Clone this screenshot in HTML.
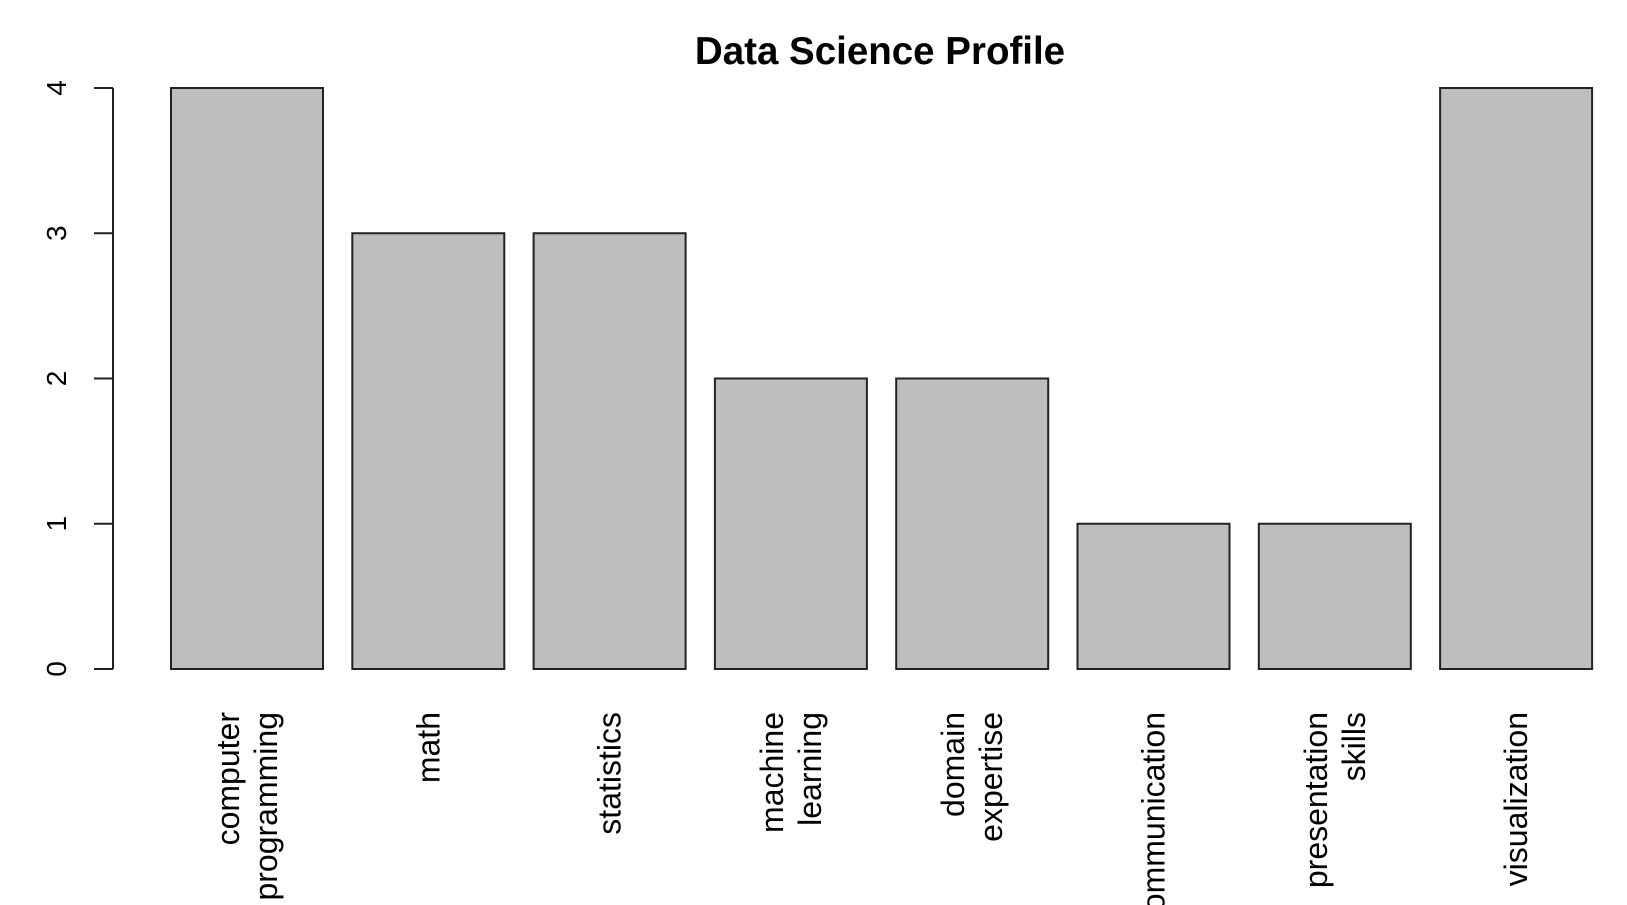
<!DOCTYPE html>
<html><head><meta charset="utf-8"><style>
html,body{margin:0;padding:0;background:#fff;}
svg{display:block;font-family:"Liberation Sans",Arial,sans-serif;}
</style></head><body>
<svg id="chart" width="1627" height="905" viewBox="0 0 1627 905" xmlns="http://www.w3.org/2000/svg">
<text x="880" y="64" text-anchor="middle" font-size="38.5" font-weight="bold" fill="#000">Data Science Profile</text>
<g id="yaxis"></g>
<g id="bars"></g>
<g id="xlabels"></g>
</svg>
<script>
const categories = [["computer","programming"],["math"],["statistics"],["machine","learning"],["domain","expertise"],["communication"],["presentation","skills"],["visualization"]];
const values = [4,3,3,2,2,1,1,4];
const yTicks = [0,1,2,3,4];
const yTickLabels = ["0","1","2","3","4"];

const NS="http://www.w3.org/2000/svg";
const y0=669, y4=88, xFirst=171, pitch=181.3, bw=152, axisX=113;
function yScale(v){return y0-(y0-y4)*v/4;}
function xScale(i){return xFirst+i*pitch;}
function mk(tag,attrs,parent){const e=document.createElementNS(NS,tag);for(const k in attrs)e.setAttribute(k,attrs[k]);parent.appendChild(e);return e;}

const ya=document.getElementById('yaxis');
const axl=mk('line',{x1:axisX,x2:axisX,y1:yScale(yTicks[0]),y2:yScale(yTicks[yTicks.length-1]),stroke:'#222','stroke-width':2},ya);


yTicks.forEach((t,i)=>{
  const y=yScale(t);
  const tk=mk('line',{x1:axisX-19,x2:axisX,y1:y,y2:y,stroke:'#222','stroke-width':2},ya);
  
  
  const tx=mk('text',{x:0,y:0,transform:`translate(66,${y}) rotate(-90)`,'text-anchor':'middle','font-size':28,fill:'#000'},ya);
  tx.textContent=yTickLabels[i];
  
  
});

const bg=document.getElementById('bars');
const xl=document.getElementById('xlabels');
values.forEach((v,i)=>{
  const x=xScale(i);
  const r=mk('rect',{x:x,y:yScale(v),width:bw,height:yScale(0)-yScale(v),fill:'#bebebe',stroke:'#222','stroke-width':2},bg);
  
  
  const lines=categories[i];
  const cx=x+bw/2;
  lines.forEach((ln,j)=>{
    const off=(j-(lines.length-1)/2)*38;
    const bx=cx+off+11;
    const t=mk('text',{x:0,y:0,transform:`translate(${bx},712) rotate(-90)`,'text-anchor':'end','font-size':32,fill:'#000'},xl);
    t.textContent=ln;
    
    
  });
});
</script>
</body></html>
